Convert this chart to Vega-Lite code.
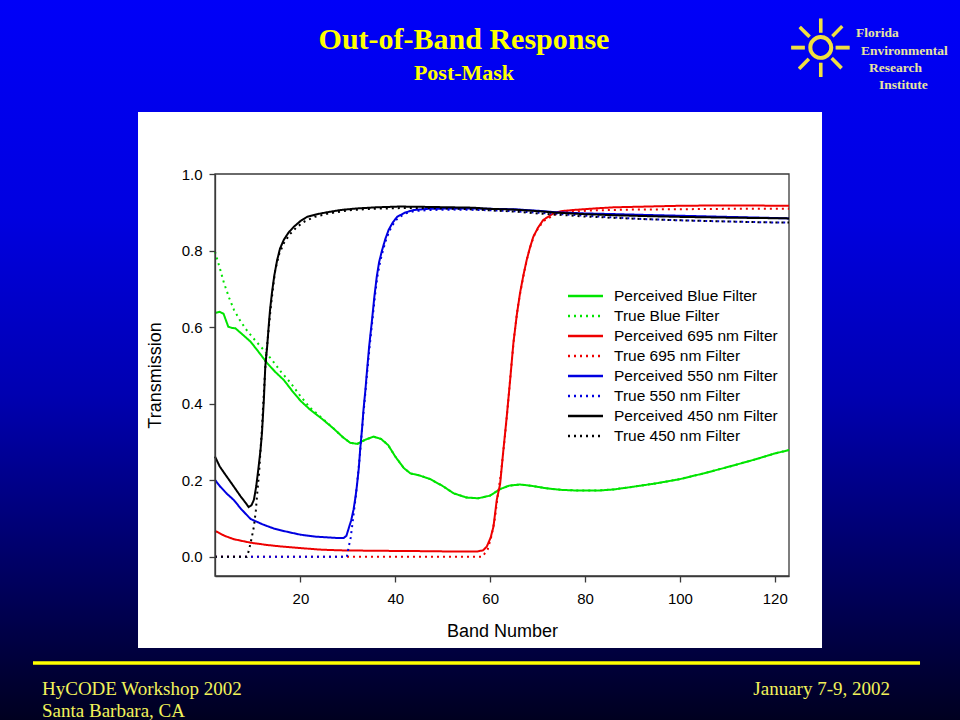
{
  "$schema": "https://vega.github.io/schema/vega-lite/v6.json",
  "width": 960,
  "height": 720,
  "padding": 0,
  "autosize": {"type": "none"},
  "background": "#00008a",
  "config": {
    "view": {
      "stroke": null,
      "fill": {"gradient": "linear", "x1": 0, "y1": 0, "x2": 0, "y2": 1,
        "stops": [
          {"offset": 0, "color": "#0000f8"},
          {"offset": 0.3, "color": "#0000e0"},
          {"offset": 0.55, "color": "#0000b0"},
          {"offset": 0.8, "color": "#000060"},
          {"offset": 1, "color": "#000020"}
        ]}
    }
  },
  "title": {
    "text": "Out-of-Band Response",
    "subtitle": "Post-Mask",
    "anchor": "middle",
    "frame": "group",
    "dx": -16,
    "offset": -84,
    "color": "#ffff00",
    "font": "Liberation Serif",
    "fontSize": 30,
    "fontWeight": "bold",
    "subtitleColor": "#ffff00",
    "subtitleFont": "Liberation Serif",
    "subtitleFontSize": 22,
    "subtitleFontWeight": "bold",
    "subtitlePadding": 8
  },
  "resolve": {"axis": {"x": "independent", "y": "independent"}},
  "layer": [
    {
      "data": {"values": [{}]},
      "mark": {"type": "rect", "fill": "#ffffff", "stroke": null},
      "encoding": {
        "x": {"datum": -14.23, "type": "quantitative", "axis": null},
        "x2": {"datum": 129.96},
        "y": {"datum": 1.1619, "type": "quantitative", "axis": null},
        "y2": {"datum": -0.2381}
      }
    },
    {
      "data": {"values": [{}]},
      "mark": {"type": "rect", "fillOpacity": 0, "stroke": "#3a3a3a", "strokeWidth": 1.3},
      "encoding": {
        "x": {"datum": 2, "type": "quantitative", "axis": null},
        "x2": {"datum": 123},
        "y": {"datum": -0.05, "type": "quantitative", "axis": null},
        "y2": {"datum": 1.0}
      }
    },
    {
      "data": {"values": [{}]},
      "mark": {"type": "rule", "color": "#ffff00", "strokeWidth": 3.5},
      "encoding": {
        "x": {"datum": -36.37, "type": "quantitative", "axis": null},
        "x2": {"datum": 150.62},
        "y": {"datum": -0.2772, "type": "quantitative", "axis": null}
      }
    },
    {
      "data": {"values": [{}]},
      "mark": {"type": "text", "text": "HyCODE Workshop 2002", "align": "left", "baseline": "alphabetic", "font": "Liberation Serif", "fontSize": 19, "color": "#f2f25a"},
      "encoding": {
        "x": {"datum": -34.47, "type": "quantitative", "axis": null},
        "y": {"datum": -0.3608, "type": "quantitative", "axis": null}
      }
    },
    {
      "data": {"values": [{}]},
      "mark": {"type": "text", "text": "Santa Barbara, CA", "align": "left", "baseline": "alphabetic", "font": "Liberation Serif", "fontSize": 19, "color": "#f2f25a"},
      "encoding": {
        "x": {"datum": -34.47, "type": "quantitative", "axis": null},
        "y": {"datum": -0.417, "type": "quantitative", "axis": null}
      }
    },
    {
      "data": {"values": [{}]},
      "mark": {"type": "text", "text": "January 7-9, 2002", "align": "right", "baseline": "alphabetic", "font": "Liberation Serif", "fontSize": 19, "color": "#f2f25a"},
      "encoding": {
        "x": {"datum": 144.29, "type": "quantitative", "axis": null},
        "y": {"datum": -0.3608, "type": "quantitative", "axis": null}
      }
    },
    {
      "data": {"values": [{}]},
      "mark": {"type": "text", "text": "☼", "align": "center", "baseline": "middle", "font": "DejaVu Sans", "fontSize": 80, "color": "#f0e040"},
      "encoding": {
        "x": {"datum": 129.6, "type": "quantitative", "axis": null},
        "y": {"datum": 1.315, "type": "quantitative", "axis": null}
      }
    },
    {
      "data": {"values": [{}]},
      "mark": {"type": "text", "text": "Florida", "align": "left", "baseline": "alphabetic", "font": "Liberation Serif", "fontWeight": "bold", "fontSize": 13.5, "color": "#e8e4a0"},
      "encoding": {
        "x": {"datum": 137.1, "type": "quantitative", "axis": null},
        "y": {"datum": 1.3586, "type": "quantitative", "axis": null}
      }
    },
    {
      "data": {"values": [{}]},
      "mark": {"type": "text", "text": "Environmental", "align": "left", "baseline": "alphabetic", "font": "Liberation Serif", "fontWeight": "bold", "fontSize": 13.5, "color": "#e8e4a0"},
      "encoding": {
        "x": {"datum": 138.18, "type": "quantitative", "axis": null},
        "y": {"datum": 1.3108, "type": "quantitative", "axis": null}
      }
    },
    {
      "data": {"values": [{}]},
      "mark": {"type": "text", "text": "Research", "align": "left", "baseline": "alphabetic", "font": "Liberation Serif", "fontWeight": "bold", "fontSize": 13.5, "color": "#e8e4a0"},
      "encoding": {
        "x": {"datum": 139.86, "type": "quantitative", "axis": null},
        "y": {"datum": 1.2656, "type": "quantitative", "axis": null}
      }
    },
    {
      "data": {"values": [{}]},
      "mark": {"type": "text", "text": "Institute", "align": "left", "baseline": "alphabetic", "font": "Liberation Serif", "fontWeight": "bold", "fontSize": 13.5, "color": "#e8e4a0"},
      "encoding": {
        "x": {"datum": 141.97, "type": "quantitative", "axis": null},
        "y": {"datum": 1.2212, "type": "quantitative", "axis": null}
      }
    },
    {
      "data": {"values": [
        {"series": "Perceived Blue Filter", "band": 2, "t": 0.637},
        {"series": "Perceived Blue Filter", "band": 3, "t": 0.640},
        {"series": "Perceived Blue Filter", "band": 3.8, "t": 0.635},
        {"series": "Perceived Blue Filter", "band": 4.8, "t": 0.601},
        {"series": "Perceived Blue Filter", "band": 5.6, "t": 0.598},
        {"series": "Perceived Blue Filter", "band": 6.3, "t": 0.597},
        {"series": "Perceived Blue Filter", "band": 7.5, "t": 0.584},
        {"series": "Perceived Blue Filter", "band": 9.5, "t": 0.562},
        {"series": "Perceived Blue Filter", "band": 10.9, "t": 0.540},
        {"series": "Perceived Blue Filter", "band": 13, "t": 0.506},
        {"series": "Perceived Blue Filter", "band": 14.7, "t": 0.483},
        {"series": "Perceived Blue Filter", "band": 16.5, "t": 0.462},
        {"series": "Perceived Blue Filter", "band": 18.3, "t": 0.433},
        {"series": "Perceived Blue Filter", "band": 20, "t": 0.408},
        {"series": "Perceived Blue Filter", "band": 22, "t": 0.385},
        {"series": "Perceived Blue Filter", "band": 24.6, "t": 0.360},
        {"series": "Perceived Blue Filter", "band": 27, "t": 0.335},
        {"series": "Perceived Blue Filter", "band": 29, "t": 0.312},
        {"series": "Perceived Blue Filter", "band": 30.5, "t": 0.298},
        {"series": "Perceived Blue Filter", "band": 32, "t": 0.295},
        {"series": "Perceived Blue Filter", "band": 33.5, "t": 0.305},
        {"series": "Perceived Blue Filter", "band": 35.4, "t": 0.314},
        {"series": "Perceived Blue Filter", "band": 37, "t": 0.308},
        {"series": "Perceived Blue Filter", "band": 38.5, "t": 0.292},
        {"series": "Perceived Blue Filter", "band": 40, "t": 0.262},
        {"series": "Perceived Blue Filter", "band": 41.8, "t": 0.232},
        {"series": "Perceived Blue Filter", "band": 43.2, "t": 0.218},
        {"series": "Perceived Blue Filter", "band": 45, "t": 0.213},
        {"series": "Perceived Blue Filter", "band": 47.4, "t": 0.203},
        {"series": "Perceived Blue Filter", "band": 50, "t": 0.185},
        {"series": "Perceived Blue Filter", "band": 52.3, "t": 0.166},
        {"series": "Perceived Blue Filter", "band": 55, "t": 0.155},
        {"series": "Perceived Blue Filter", "band": 57.5, "t": 0.153},
        {"series": "Perceived Blue Filter", "band": 60, "t": 0.160},
        {"series": "Perceived Blue Filter", "band": 62.1, "t": 0.177},
        {"series": "Perceived Blue Filter", "band": 64, "t": 0.186},
        {"series": "Perceived Blue Filter", "band": 66.3, "t": 0.189},
        {"series": "Perceived Blue Filter", "band": 69, "t": 0.185},
        {"series": "Perceived Blue Filter", "band": 71.9, "t": 0.179},
        {"series": "Perceived Blue Filter", "band": 75, "t": 0.175},
        {"series": "Perceived Blue Filter", "band": 78.9, "t": 0.173},
        {"series": "Perceived Blue Filter", "band": 82.5, "t": 0.173},
        {"series": "Perceived Blue Filter", "band": 86, "t": 0.176},
        {"series": "Perceived Blue Filter", "band": 89.5, "t": 0.182},
        {"series": "Perceived Blue Filter", "band": 95, "t": 0.192},
        {"series": "Perceived Blue Filter", "band": 100, "t": 0.203},
        {"series": "Perceived Blue Filter", "band": 105, "t": 0.218},
        {"series": "Perceived Blue Filter", "band": 110.5, "t": 0.236},
        {"series": "Perceived Blue Filter", "band": 116, "t": 0.255},
        {"series": "Perceived Blue Filter", "band": 120, "t": 0.270},
        {"series": "Perceived Blue Filter", "band": 123, "t": 0.279},

        {"series": "True Blue Filter", "band": 2, "t": 0.797},
        {"series": "True Blue Filter", "band": 3, "t": 0.755},
        {"series": "True Blue Filter", "band": 3.9, "t": 0.715},
        {"series": "True Blue Filter", "band": 5, "t": 0.676},
        {"series": "True Blue Filter", "band": 6, "t": 0.645},
        {"series": "True Blue Filter", "band": 7.4, "t": 0.615},
        {"series": "True Blue Filter", "band": 8.8, "t": 0.590},
        {"series": "True Blue Filter", "band": 10.5, "t": 0.565},
        {"series": "True Blue Filter", "band": 12.3, "t": 0.540},
        {"series": "True Blue Filter", "band": 14.4, "t": 0.508},
        {"series": "True Blue Filter", "band": 16, "t": 0.482},
        {"series": "True Blue Filter", "band": 17.9, "t": 0.455},
        {"series": "True Blue Filter", "band": 20, "t": 0.420},
        {"series": "True Blue Filter", "band": 22, "t": 0.390},
        {"series": "True Blue Filter", "band": 24.6, "t": 0.362},
        {"series": "True Blue Filter", "band": 27, "t": 0.335},
        {"series": "True Blue Filter", "band": 29, "t": 0.312},
        {"series": "True Blue Filter", "band": 30.5, "t": 0.298},
        {"series": "True Blue Filter", "band": 32, "t": 0.295},
        {"series": "True Blue Filter", "band": 33.5, "t": 0.305},
        {"series": "True Blue Filter", "band": 35.4, "t": 0.314},
        {"series": "True Blue Filter", "band": 37, "t": 0.308},
        {"series": "True Blue Filter", "band": 38.5, "t": 0.292},
        {"series": "True Blue Filter", "band": 40, "t": 0.262},
        {"series": "True Blue Filter", "band": 41.8, "t": 0.232},
        {"series": "True Blue Filter", "band": 43.2, "t": 0.218},
        {"series": "True Blue Filter", "band": 45, "t": 0.213},
        {"series": "True Blue Filter", "band": 47.4, "t": 0.203},
        {"series": "True Blue Filter", "band": 50, "t": 0.185},
        {"series": "True Blue Filter", "band": 52.3, "t": 0.166},
        {"series": "True Blue Filter", "band": 55, "t": 0.155},
        {"series": "True Blue Filter", "band": 57.5, "t": 0.153},
        {"series": "True Blue Filter", "band": 60, "t": 0.160},
        {"series": "True Blue Filter", "band": 62.1, "t": 0.177},
        {"series": "True Blue Filter", "band": 64, "t": 0.186},
        {"series": "True Blue Filter", "band": 66.3, "t": 0.189},
        {"series": "True Blue Filter", "band": 69, "t": 0.185},
        {"series": "True Blue Filter", "band": 71.9, "t": 0.179},
        {"series": "True Blue Filter", "band": 75, "t": 0.175},
        {"series": "True Blue Filter", "band": 78.9, "t": 0.173},
        {"series": "True Blue Filter", "band": 82.5, "t": 0.173},
        {"series": "True Blue Filter", "band": 86, "t": 0.176},
        {"series": "True Blue Filter", "band": 89.5, "t": 0.182},
        {"series": "True Blue Filter", "band": 95, "t": 0.192},
        {"series": "True Blue Filter", "band": 100, "t": 0.203},
        {"series": "True Blue Filter", "band": 105, "t": 0.218},
        {"series": "True Blue Filter", "band": 110.5, "t": 0.236},
        {"series": "True Blue Filter", "band": 116, "t": 0.255},
        {"series": "True Blue Filter", "band": 120, "t": 0.270},
        {"series": "True Blue Filter", "band": 123, "t": 0.279},

        {"series": "Perceived 695 nm Filter", "band": 2, "t": 0.068},
        {"series": "Perceived 695 nm Filter", "band": 4, "t": 0.055},
        {"series": "Perceived 695 nm Filter", "band": 6, "t": 0.046},
        {"series": "Perceived 695 nm Filter", "band": 9.5, "t": 0.037},
        {"series": "Perceived 695 nm Filter", "band": 13, "t": 0.031},
        {"series": "Perceived 695 nm Filter", "band": 16, "t": 0.027},
        {"series": "Perceived 695 nm Filter", "band": 20, "t": 0.023},
        {"series": "Perceived 695 nm Filter", "band": 24, "t": 0.019},
        {"series": "Perceived 695 nm Filter", "band": 28.4, "t": 0.017},
        {"series": "Perceived 695 nm Filter", "band": 35, "t": 0.016},
        {"series": "Perceived 695 nm Filter", "band": 45, "t": 0.015},
        {"series": "Perceived 695 nm Filter", "band": 52, "t": 0.014},
        {"series": "Perceived 695 nm Filter", "band": 57.2, "t": 0.014},
        {"series": "Perceived 695 nm Filter", "band": 58.5, "t": 0.017},
        {"series": "Perceived 695 nm Filter", "band": 59.3, "t": 0.027},
        {"series": "Perceived 695 nm Filter", "band": 60.1, "t": 0.050},
        {"series": "Perceived 695 nm Filter", "band": 60.7, "t": 0.079},
        {"series": "Perceived 695 nm Filter", "band": 61.4, "t": 0.149},
        {"series": "Perceived 695 nm Filter", "band": 62.1, "t": 0.190},
        {"series": "Perceived 695 nm Filter", "band": 62.8, "t": 0.280},
        {"series": "Perceived 695 nm Filter", "band": 63.5, "t": 0.366},
        {"series": "Perceived 695 nm Filter", "band": 64.2, "t": 0.460},
        {"series": "Perceived 695 nm Filter", "band": 64.9, "t": 0.558},
        {"series": "Perceived 695 nm Filter", "band": 65.6, "t": 0.630},
        {"series": "Perceived 695 nm Filter", "band": 66.3, "t": 0.689},
        {"series": "Perceived 695 nm Filter", "band": 67, "t": 0.735},
        {"series": "Perceived 695 nm Filter", "band": 67.7, "t": 0.775},
        {"series": "Perceived 695 nm Filter", "band": 68.4, "t": 0.808},
        {"series": "Perceived 695 nm Filter", "band": 69.1, "t": 0.836},
        {"series": "Perceived 695 nm Filter", "band": 70.1, "t": 0.860},
        {"series": "Perceived 695 nm Filter", "band": 71.2, "t": 0.880},
        {"series": "Perceived 695 nm Filter", "band": 73.3, "t": 0.897},
        {"series": "Perceived 695 nm Filter", "band": 75, "t": 0.903},
        {"series": "Perceived 695 nm Filter", "band": 77.5, "t": 0.906},
        {"series": "Perceived 695 nm Filter", "band": 82, "t": 0.910},
        {"series": "Perceived 695 nm Filter", "band": 86, "t": 0.913},
        {"series": "Perceived 695 nm Filter", "band": 93, "t": 0.915},
        {"series": "Perceived 695 nm Filter", "band": 100, "t": 0.917},
        {"series": "Perceived 695 nm Filter", "band": 110, "t": 0.918},
        {"series": "Perceived 695 nm Filter", "band": 123, "t": 0.917},

        {"series": "True 695 nm Filter", "band": 2, "t": 0},
        {"series": "True 695 nm Filter", "band": 58.3, "t": 0},
        {"series": "True 695 nm Filter", "band": 58.8, "t": 0.008},
        {"series": "True 695 nm Filter", "band": 59.5, "t": 0.020},
        {"series": "True 695 nm Filter", "band": 60.3, "t": 0.055},
        {"series": "True 695 nm Filter", "band": 61, "t": 0.100},
        {"series": "True 695 nm Filter", "band": 61.6, "t": 0.160},
        {"series": "True 695 nm Filter", "band": 62.3, "t": 0.220},
        {"series": "True 695 nm Filter", "band": 63, "t": 0.300},
        {"series": "True 695 nm Filter", "band": 63.7, "t": 0.390},
        {"series": "True 695 nm Filter", "band": 64.4, "t": 0.490},
        {"series": "True 695 nm Filter", "band": 65.1, "t": 0.580},
        {"series": "True 695 nm Filter", "band": 65.8, "t": 0.650},
        {"series": "True 695 nm Filter", "band": 66.5, "t": 0.700},
        {"series": "True 695 nm Filter", "band": 67.2, "t": 0.745},
        {"series": "True 695 nm Filter", "band": 67.9, "t": 0.785},
        {"series": "True 695 nm Filter", "band": 68.6, "t": 0.815},
        {"series": "True 695 nm Filter", "band": 69.3, "t": 0.840},
        {"series": "True 695 nm Filter", "band": 70.3, "t": 0.862},
        {"series": "True 695 nm Filter", "band": 71.4, "t": 0.878},
        {"series": "True 695 nm Filter", "band": 73.5, "t": 0.893},
        {"series": "True 695 nm Filter", "band": 75, "t": 0.899},
        {"series": "True 695 nm Filter", "band": 77.5, "t": 0.902},
        {"series": "True 695 nm Filter", "band": 82, "t": 0.905},
        {"series": "True 695 nm Filter", "band": 90, "t": 0.907},
        {"series": "True 695 nm Filter", "band": 100, "t": 0.908},
        {"series": "True 695 nm Filter", "band": 110, "t": 0.909},
        {"series": "True 695 nm Filter", "band": 123, "t": 0.909},

        {"series": "Perceived 550 nm Filter", "band": 2, "t": 0.201},
        {"series": "Perceived 550 nm Filter", "band": 3, "t": 0.185},
        {"series": "Perceived 550 nm Filter", "band": 4.5, "t": 0.165},
        {"series": "Perceived 550 nm Filter", "band": 6, "t": 0.148},
        {"series": "Perceived 550 nm Filter", "band": 7.5, "t": 0.125},
        {"series": "Perceived 550 nm Filter", "band": 9.5, "t": 0.099},
        {"series": "Perceived 550 nm Filter", "band": 12, "t": 0.085},
        {"series": "Perceived 550 nm Filter", "band": 14.4, "t": 0.074},
        {"series": "Perceived 550 nm Filter", "band": 17, "t": 0.066},
        {"series": "Perceived 550 nm Filter", "band": 20, "t": 0.058},
        {"series": "Perceived 550 nm Filter", "band": 23, "t": 0.053},
        {"series": "Perceived 550 nm Filter", "band": 25.6, "t": 0.051},
        {"series": "Perceived 550 nm Filter", "band": 28, "t": 0.049},
        {"series": "Perceived 550 nm Filter", "band": 29.1, "t": 0.049},
        {"series": "Perceived 550 nm Filter", "band": 29.7, "t": 0.055},
        {"series": "Perceived 550 nm Filter", "band": 30.2, "t": 0.075},
        {"series": "Perceived 550 nm Filter", "band": 30.7, "t": 0.095},
        {"series": "Perceived 550 nm Filter", "band": 31.2, "t": 0.123},
        {"series": "Perceived 550 nm Filter", "band": 31.6, "t": 0.155},
        {"series": "Perceived 550 nm Filter", "band": 31.9, "t": 0.184},
        {"series": "Perceived 550 nm Filter", "band": 32.3, "t": 0.230},
        {"series": "Perceived 550 nm Filter", "band": 32.6, "t": 0.280},
        {"series": "Perceived 550 nm Filter", "band": 33, "t": 0.335},
        {"series": "Perceived 550 nm Filter", "band": 33.3, "t": 0.384},
        {"series": "Perceived 550 nm Filter", "band": 33.7, "t": 0.435},
        {"series": "Perceived 550 nm Filter", "band": 34, "t": 0.480},
        {"series": "Perceived 550 nm Filter", "band": 34.5, "t": 0.550},
        {"series": "Perceived 550 nm Filter", "band": 35.1, "t": 0.619},
        {"series": "Perceived 550 nm Filter", "band": 35.6, "t": 0.680},
        {"series": "Perceived 550 nm Filter", "band": 36.1, "t": 0.732},
        {"series": "Perceived 550 nm Filter", "band": 36.6, "t": 0.770},
        {"series": "Perceived 550 nm Filter", "band": 37.2, "t": 0.800},
        {"series": "Perceived 550 nm Filter", "band": 37.9, "t": 0.830},
        {"series": "Perceived 550 nm Filter", "band": 38.6, "t": 0.854},
        {"series": "Perceived 550 nm Filter", "band": 39.5, "t": 0.874},
        {"series": "Perceived 550 nm Filter", "band": 40.4, "t": 0.888},
        {"series": "Perceived 550 nm Filter", "band": 42, "t": 0.899},
        {"series": "Perceived 550 nm Filter", "band": 43.9, "t": 0.906},
        {"series": "Perceived 550 nm Filter", "band": 47, "t": 0.909},
        {"series": "Perceived 550 nm Filter", "band": 52, "t": 0.910},
        {"series": "Perceived 550 nm Filter", "band": 56.5, "t": 0.910},
        {"series": "Perceived 550 nm Filter", "band": 60, "t": 0.909},
        {"series": "Perceived 550 nm Filter", "band": 65, "t": 0.908},
        {"series": "Perceived 550 nm Filter", "band": 70, "t": 0.904},
        {"series": "Perceived 550 nm Filter", "band": 74, "t": 0.900},
        {"series": "Perceived 550 nm Filter", "band": 80, "t": 0.897},
        {"series": "Perceived 550 nm Filter", "band": 87, "t": 0.895},
        {"series": "Perceived 550 nm Filter", "band": 93, "t": 0.893},
        {"series": "Perceived 550 nm Filter", "band": 100, "t": 0.891},
        {"series": "Perceived 550 nm Filter", "band": 110, "t": 0.888},
        {"series": "Perceived 550 nm Filter", "band": 117, "t": 0.886},
        {"series": "Perceived 550 nm Filter", "band": 123, "t": 0.884},

        {"series": "True 550 nm Filter", "band": 2, "t": 0},
        {"series": "True 550 nm Filter", "band": 29.8, "t": 0},
        {"series": "True 550 nm Filter", "band": 30.2, "t": 0.027},
        {"series": "True 550 nm Filter", "band": 30.6, "t": 0.050},
        {"series": "True 550 nm Filter", "band": 30.9, "t": 0.079},
        {"series": "True 550 nm Filter", "band": 31.3, "t": 0.120},
        {"series": "True 550 nm Filter", "band": 31.7, "t": 0.160},
        {"series": "True 550 nm Filter", "band": 32.1, "t": 0.210},
        {"series": "True 550 nm Filter", "band": 32.5, "t": 0.260},
        {"series": "True 550 nm Filter", "band": 32.9, "t": 0.320},
        {"series": "True 550 nm Filter", "band": 33.3, "t": 0.375},
        {"series": "True 550 nm Filter", "band": 33.7, "t": 0.430},
        {"series": "True 550 nm Filter", "band": 34.1, "t": 0.485},
        {"series": "True 550 nm Filter", "band": 34.6, "t": 0.550},
        {"series": "True 550 nm Filter", "band": 35.2, "t": 0.620},
        {"series": "True 550 nm Filter", "band": 35.7, "t": 0.680},
        {"series": "True 550 nm Filter", "band": 36.2, "t": 0.730},
        {"series": "True 550 nm Filter", "band": 36.8, "t": 0.770},
        {"series": "True 550 nm Filter", "band": 37.4, "t": 0.800},
        {"series": "True 550 nm Filter", "band": 38.1, "t": 0.830},
        {"series": "True 550 nm Filter", "band": 38.8, "t": 0.852},
        {"series": "True 550 nm Filter", "band": 39.7, "t": 0.872},
        {"series": "True 550 nm Filter", "band": 40.6, "t": 0.886},
        {"series": "True 550 nm Filter", "band": 42.2, "t": 0.897},
        {"series": "True 550 nm Filter", "band": 44, "t": 0.903},
        {"series": "True 550 nm Filter", "band": 47, "t": 0.906},
        {"series": "True 550 nm Filter", "band": 52, "t": 0.907},
        {"series": "True 550 nm Filter", "band": 58, "t": 0.906},
        {"series": "True 550 nm Filter", "band": 65, "t": 0.903},
        {"series": "True 550 nm Filter", "band": 70, "t": 0.899},
        {"series": "True 550 nm Filter", "band": 74, "t": 0.896},
        {"series": "True 550 nm Filter", "band": 80, "t": 0.891},
        {"series": "True 550 nm Filter", "band": 87, "t": 0.886},
        {"series": "True 550 nm Filter", "band": 93, "t": 0.882},
        {"series": "True 550 nm Filter", "band": 100, "t": 0.879},
        {"series": "True 550 nm Filter", "band": 110, "t": 0.876},
        {"series": "True 550 nm Filter", "band": 117, "t": 0.874},
        {"series": "True 550 nm Filter", "band": 123, "t": 0.873},

        {"series": "Perceived 450 nm Filter", "band": 2, "t": 0.262},
        {"series": "Perceived 450 nm Filter", "band": 3, "t": 0.236},
        {"series": "Perceived 450 nm Filter", "band": 4, "t": 0.218},
        {"series": "Perceived 450 nm Filter", "band": 5.6, "t": 0.190},
        {"series": "Perceived 450 nm Filter", "band": 7.4, "t": 0.158},
        {"series": "Perceived 450 nm Filter", "band": 8.4, "t": 0.142},
        {"series": "Perceived 450 nm Filter", "band": 9.1, "t": 0.130},
        {"series": "Perceived 450 nm Filter", "band": 9.7, "t": 0.135},
        {"series": "Perceived 450 nm Filter", "band": 10.2, "t": 0.149},
        {"series": "Perceived 450 nm Filter", "band": 10.7, "t": 0.185},
        {"series": "Perceived 450 nm Filter", "band": 11.2, "t": 0.236},
        {"series": "Perceived 450 nm Filter", "band": 11.6, "t": 0.280},
        {"series": "Perceived 450 nm Filter", "band": 11.9, "t": 0.323},
        {"series": "Perceived 450 nm Filter", "band": 12.3, "t": 0.410},
        {"series": "Perceived 450 nm Filter", "band": 12.6, "t": 0.497},
        {"series": "Perceived 450 nm Filter", "band": 13, "t": 0.550},
        {"series": "Perceived 450 nm Filter", "band": 13.3, "t": 0.600},
        {"series": "Perceived 450 nm Filter", "band": 13.6, "t": 0.645},
        {"series": "Perceived 450 nm Filter", "band": 14, "t": 0.689},
        {"series": "Perceived 450 nm Filter", "band": 14.5, "t": 0.735},
        {"series": "Perceived 450 nm Filter", "band": 15.1, "t": 0.775},
        {"series": "Perceived 450 nm Filter", "band": 15.7, "t": 0.805},
        {"series": "Perceived 450 nm Filter", "band": 16.5, "t": 0.828},
        {"series": "Perceived 450 nm Filter", "band": 17.5, "t": 0.847},
        {"series": "Perceived 450 nm Filter", "band": 18.6, "t": 0.862},
        {"series": "Perceived 450 nm Filter", "band": 20, "t": 0.877},
        {"series": "Perceived 450 nm Filter", "band": 21.4, "t": 0.888},
        {"series": "Perceived 450 nm Filter", "band": 23.5, "t": 0.895},
        {"series": "Perceived 450 nm Filter", "band": 25.6, "t": 0.900},
        {"series": "Perceived 450 nm Filter", "band": 28.5, "t": 0.906},
        {"series": "Perceived 450 nm Filter", "band": 31.9, "t": 0.910},
        {"series": "Perceived 450 nm Filter", "band": 36, "t": 0.913},
        {"series": "Perceived 450 nm Filter", "band": 41, "t": 0.915},
        {"series": "Perceived 450 nm Filter", "band": 47, "t": 0.914},
        {"series": "Perceived 450 nm Filter", "band": 56.5, "t": 0.912},
        {"series": "Perceived 450 nm Filter", "band": 60, "t": 0.909},
        {"series": "Perceived 450 nm Filter", "band": 65, "t": 0.907},
        {"series": "Perceived 450 nm Filter", "band": 70, "t": 0.903},
        {"series": "Perceived 450 nm Filter", "band": 74, "t": 0.899},
        {"series": "Perceived 450 nm Filter", "band": 80, "t": 0.895},
        {"series": "Perceived 450 nm Filter", "band": 87, "t": 0.892},
        {"series": "Perceived 450 nm Filter", "band": 93, "t": 0.890},
        {"series": "Perceived 450 nm Filter", "band": 100, "t": 0.888},
        {"series": "Perceived 450 nm Filter", "band": 110, "t": 0.886},
        {"series": "Perceived 450 nm Filter", "band": 117, "t": 0.885},
        {"series": "Perceived 450 nm Filter", "band": 123, "t": 0.884},

        {"series": "True 450 nm Filter", "band": 2, "t": 0},
        {"series": "True 450 nm Filter", "band": 8.7, "t": 0},
        {"series": "True 450 nm Filter", "band": 9.1, "t": 0.015},
        {"series": "True 450 nm Filter", "band": 9.5, "t": 0.036},
        {"series": "True 450 nm Filter", "band": 9.9, "t": 0.060},
        {"series": "True 450 nm Filter", "band": 10.2, "t": 0.079},
        {"series": "True 450 nm Filter", "band": 10.6, "t": 0.120},
        {"series": "True 450 nm Filter", "band": 10.9, "t": 0.166},
        {"series": "True 450 nm Filter", "band": 11.3, "t": 0.220},
        {"series": "True 450 nm Filter", "band": 11.6, "t": 0.280},
        {"series": "True 450 nm Filter", "band": 11.9, "t": 0.335},
        {"series": "True 450 nm Filter", "band": 12.1, "t": 0.384},
        {"series": "True 450 nm Filter", "band": 12.4, "t": 0.450},
        {"series": "True 450 nm Filter", "band": 12.7, "t": 0.514},
        {"series": "True 450 nm Filter", "band": 13.2, "t": 0.580},
        {"series": "True 450 nm Filter", "band": 13.7, "t": 0.645},
        {"series": "True 450 nm Filter", "band": 14.2, "t": 0.700},
        {"series": "True 450 nm Filter", "band": 14.7, "t": 0.749},
        {"series": "True 450 nm Filter", "band": 15.5, "t": 0.790},
        {"series": "True 450 nm Filter", "band": 16.5, "t": 0.819},
        {"series": "True 450 nm Filter", "band": 17.8, "t": 0.843},
        {"series": "True 450 nm Filter", "band": 19.3, "t": 0.862},
        {"series": "True 450 nm Filter", "band": 21, "t": 0.877},
        {"series": "True 450 nm Filter", "band": 23, "t": 0.888},
        {"series": "True 450 nm Filter", "band": 26, "t": 0.897},
        {"series": "True 450 nm Filter", "band": 30, "t": 0.905},
        {"series": "True 450 nm Filter", "band": 35, "t": 0.909},
        {"series": "True 450 nm Filter", "band": 41, "t": 0.911},
        {"series": "True 450 nm Filter", "band": 47, "t": 0.911},
        {"series": "True 450 nm Filter", "band": 56.5, "t": 0.908},
        {"series": "True 450 nm Filter", "band": 60, "t": 0.905},
        {"series": "True 450 nm Filter", "band": 65, "t": 0.902},
        {"series": "True 450 nm Filter", "band": 70, "t": 0.897},
        {"series": "True 450 nm Filter", "band": 74, "t": 0.894},
        {"series": "True 450 nm Filter", "band": 80, "t": 0.889},
        {"series": "True 450 nm Filter", "band": 87, "t": 0.885},
        {"series": "True 450 nm Filter", "band": 93, "t": 0.882},
        {"series": "True 450 nm Filter", "band": 100, "t": 0.879},
        {"series": "True 450 nm Filter", "band": 110, "t": 0.876},
        {"series": "True 450 nm Filter", "band": 117, "t": 0.874},
        {"series": "True 450 nm Filter", "band": 123, "t": 0.873}
      ]},
      "mark": {"type": "line", "strokeWidth": 2},
      "encoding": {
        "x": {
          "field": "band", "type": "quantitative",
          "scale": {"domain": [2, 123], "range": [215, 789], "nice": false, "zero": false},
          "axis": {
            "orient": "bottom", "offset": -144, "values": [20, 40, 60, 80, 100, 120],
            "title": "Band Number", "titleFont": "Liberation Sans", "titleFontSize": 18, "titleFontWeight": "normal", "titleColor": "#000000", "titlePadding": 16,
            "labelFont": "Liberation Sans", "labelFontSize": 15, "labelColor": "#000000", "labelPadding": 9, "labelFlush": false,
            "tickSize": 6, "tickColor": "#3a3a3a", "tickWidth": 1.3,
            "domainColor": "#3a3a3a", "domainWidth": 1.3, "grid": false, "zindex": 2
          }
        },
        "y": {
          "field": "t", "type": "quantitative",
          "scale": {"domain": [-0.05, 1.0], "range": [576, 174], "nice": false, "zero": false},
          "axis": {
            "orient": "left", "offset": -215, "values": [0, 0.2, 0.4, 0.6, 0.8, 1.0], "format": ".1f",
            "title": "Transmission", "titleFont": "Liberation Sans", "titleFontSize": 18, "titleFontWeight": "normal", "titleColor": "#000000", "titlePadding": 16.5,
            "labelFont": "Liberation Sans", "labelFontSize": 15, "labelColor": "#000000", "labelPadding": 7, "labelFlush": false,
            "tickSize": 6, "tickColor": "#3a3a3a", "tickWidth": 1.3,
            "domainColor": "#3a3a3a", "domainWidth": 1.3, "grid": false, "zindex": 2
          }
        },
        "color": {
          "field": "series", "type": "nominal",
          "scale": {
            "domain": ["Perceived Blue Filter", "True Blue Filter", "Perceived 695 nm Filter", "True 695 nm Filter", "Perceived 550 nm Filter", "True 550 nm Filter", "Perceived 450 nm Filter", "True 450 nm Filter"],
            "range": ["#00e400", "#00e400", "#ee0000", "#ee0000", "#0000e0", "#0000e0", "#000000", "#000000"]
          },
          "legend": {
            "title": null, "orient": "none", "legendX": 575.5, "legendY": 286,
            "symbolType": "M-2,0L2,0", "symbolSize": 306, "symbolStrokeWidth": 2.5,
            "labelFont": "Liberation Sans", "labelFontSize": 15.5, "labelColor": "#000000",
            "labelOffset": 18.5, "rowPadding": 1.0, "padding": 0, "labelLimit": 400
          }
        },
        "strokeDash": {
          "field": "series", "type": "nominal",
          "scale": {
            "domain": ["Perceived Blue Filter", "True Blue Filter", "Perceived 695 nm Filter", "True 695 nm Filter", "Perceived 550 nm Filter", "True 550 nm Filter", "Perceived 450 nm Filter", "True 450 nm Filter"],
            "range": [[1, 0], [2, 4], [1, 0], [2, 4], [1, 0], [2, 4], [1, 0], [2, 4]]
          },
          "legend": {
            "title": null, "orient": "none", "legendX": 575.5, "legendY": 286,
            "symbolType": "M-2,0L2,0", "symbolSize": 306, "symbolStrokeWidth": 2.5,
            "labelFont": "Liberation Sans", "labelFontSize": 15.5, "labelColor": "#000000",
            "labelOffset": 18.5, "rowPadding": 1.0, "padding": 0, "labelLimit": 400
          }
        }
      }
    }
  ]
}
